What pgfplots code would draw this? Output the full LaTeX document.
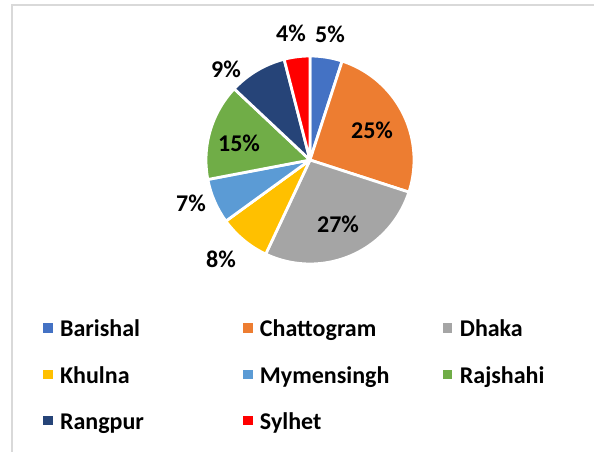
\documentclass[border=0pt]{standalone}
\usepackage{pgfplots}
\pgfplotsset{compat=1.18}
\usepackage{pgfplotstable}
\usepackage{fontspec}
\setmainfont{Carlito}
\definecolor{cBar}{HTML}{4472C4}
\definecolor{cCht}{HTML}{ED7D31}
\definecolor{cDha}{HTML}{A5A5A5}
\definecolor{cKhu}{HTML}{FFC000}
\definecolor{cMym}{HTML}{5B9BD5}
\definecolor{cRaj}{HTML}{70AD47}
\definecolor{cRan}{HTML}{264478}
\definecolor{cSyl}{HTML}{FF0000}
\definecolor{frame}{HTML}{D9D9D9}
\newcommand\lbl{\fontsize{24bp}{28bp}\selectfont\bfseries}
\pgfplotstableread{
name value lx ly clr
Barishal 5 330 418 cBar
Chattogram 25 372 322 cCht
Dhaka 27 338 228 cDha
Khulna 8 221 193 cKhu
Mymensingh 7 191 249 cMym
Rajshahi 15 239 309 cRaj
Rangpur 9 226 383 cRan
Sylhet 4 291 419 cSyl
}\pietable
\begin{document}
\begin{tikzpicture}
\path[use as bounding box] (0,0) rectangle (594bp,452bp);
\draw[frame, line width=1.2bp] (12bp,0) -- (12bp,447bp) -- (600bp,447bp);
\begin{axis}[
  at={(0,0)}, anchor=south west,
  width=594bp, height=452bp, scale only axis,
  xmin=0, xmax=594, ymin=0, ymax=452,
  hide axis, clip=false,
  legend columns=3,
  legend cell align=left,
  legend style={draw=none, fill=none, at={(axis cs:40,78)}, anchor=west,
    nodes={inner sep=0pt, font=\lbl},
    /tikz/every odd column/.append style={column sep=8bp},
    row sep=25bp},
]
\def\cum{0}
\pgfplotsforeachungrouped \i in {0,...,7}{%
  \pgfplotstablegetelem{\i}{value}\of\pietable \edef\v{\pgfplotsretval}%
  \pgfplotstablegetelem{\i}{clr}\of\pietable \edef\c{\pgfplotsretval}%
  \pgfplotstablegetelem{\i}{lx}\of\pietable \edef\lx{\pgfplotsretval}%
  \pgfplotstablegetelem{\i}{ly}\of\pietable \edef\ly{\pgfplotsretval}%
  \pgfmathsetmacro\aA{90-3.6*\cum}%
  \pgfmathsetmacro\cum{\cum+\v}%
  \pgfmathsetmacro\aB{90-3.6*\cum}%
  \edef\temp{\noexpand\filldraw[fill=\c, draw=white, line width=2.8bp, line join=round] (axis cs:310,292) -- ++(\aA:104bp) arc[start angle=\aA, end angle=\aB, radius=104bp] -- cycle;
  \noexpand\node[font=\noexpand\lbl] at (axis cs:\lx,\ly) {\v\noexpand\%};}%
  \temp
}
\addlegendimage{legend image code/.code={\fill[cBar] (0bp,-4.25bp) rectangle (8.5bp,4.25bp);}}
\addlegendentry{\makebox[183bp][l]{\strut Barishal}}
\addlegendimage{legend image code/.code={\fill[cCht] (0bp,-4.25bp) rectangle (8.5bp,4.25bp);}}
\addlegendentry{\makebox[183bp][l]{\strut Chattogram}}
\addlegendimage{legend image code/.code={\fill[cDha] (0bp,-4.25bp) rectangle (8.5bp,4.25bp);}}
\addlegendentry{\strut Dhaka}
\addlegendimage{legend image code/.code={\fill[cKhu] (0bp,-4.25bp) rectangle (8.5bp,4.25bp);}}
\addlegendentry{\makebox[183bp][l]{\strut Khulna}}
\addlegendimage{legend image code/.code={\fill[cMym] (0bp,-4.25bp) rectangle (8.5bp,4.25bp);}}
\addlegendentry{\makebox[183bp][l]{\strut Mymensingh}}
\addlegendimage{legend image code/.code={\fill[cRaj] (0bp,-4.25bp) rectangle (8.5bp,4.25bp);}}
\addlegendentry{\strut Rajshahi}
\addlegendimage{legend image code/.code={\fill[cRan] (0bp,-4.25bp) rectangle (8.5bp,4.25bp);}}
\addlegendentry{\makebox[183bp][l]{\strut Rangpur}}
\addlegendimage{legend image code/.code={\fill[cSyl] (0bp,-4.25bp) rectangle (8.5bp,4.25bp);}}
\addlegendentry{\makebox[183bp][l]{\strut Sylhet}}
\end{axis}
\end{tikzpicture}
\end{document}
